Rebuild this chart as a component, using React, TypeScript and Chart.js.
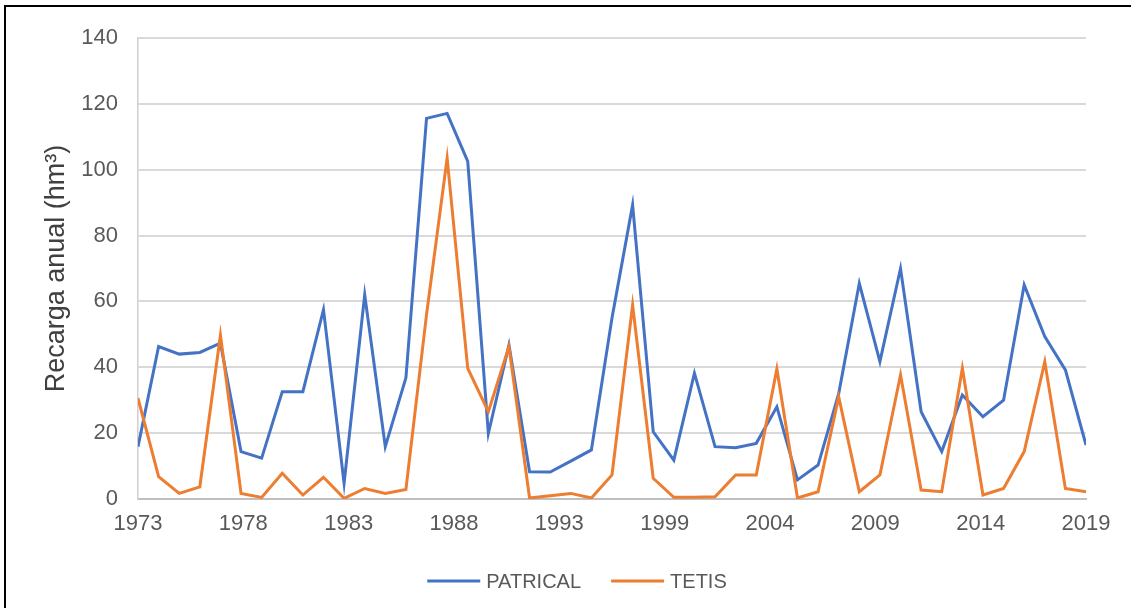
import React, { useEffect, useRef } from "react";
import { Chart, registerables } from "chart.js";

Chart.register(...registerables);

const years = [
  1973, 1974, 1975, 1976, 1977, 1978, 1979, 1980, 1981, 1982,
  1983, 1984, 1985, 1986, 1987, 1988, 1989, 1990, 1991, 1992,
  1993, 1994, 1995, 1996, 1997, 1998, 1999, 2000, 2001, 2002,
  2003, 2004, 2005, 2006, 2007, 2008, 2009, 2010, 2011, 2012,
  2013, 2014, 2015, 2016, 2017, 2018, 2019,
];

const patrical = [
  15.9, 46.3, 44.0, 44.5, 47.3, 14.4, 12.4, 32.6, 32.6, 57.5,
  4.8, 62.0, 15.9, 36.8, 115.6, 117.1, 102.5, 19.9, 46.8, 8.3,
  8.2, 11.5, 14.9, 55.0, 89.3, 20.4, 11.8, 38.2, 15.9, 15.6,
  16.9, 28.0, 5.8, 10.3, 32.0, 65.5, 41.7, 70.0, 26.5, 14.4,
  31.6, 25.0, 30.0, 65.0, 49.3, 39.2, 16.4,
];

const tetis = [
  30.6, 6.8, 1.7, 3.7, 49.8, 1.7, 0.5, 7.8, 1.2, 6.6,
  0.2, 3.2, 1.7, 2.9, 56.0, 103.5, 39.7, 26.5, 46.3, 0.3,
  1.0, 1.7, 0.3, 7.3, 58.9, 6.3, 0.5, 0.5, 0.7, 7.3,
  7.3, 39.5, 0.3, 2.2, 31.0, 2.2, 7.3, 37.7, 2.7, 2.2,
  39.7, 1.2, 3.2, 14.4, 41.7, 3.2, 2.2,
];

const xTickLabels = ["1973", "1978", "1983", "1988", "1993", "1999", "2004", "2009", "2014", "2019"];
const yTicks = [0, 20, 40, 60, 80, 100, 120, 140];

const seriesNames = ["PATRICAL", "TETIS"];
const seriesColors = ["#4472C4", "#ED7D31"];
const yTitle = "Recarga anual (hm³)";

const FONT = "'Liberation Sans', Arial, sans-serif";

const bottomLegend = {
  id: "bottomLegend",
  afterDraw(chart: any) {
    const ctx = chart.ctx;
    const lineLen = 53;
    const textGap = 6;
    const itemGap = 30;
    const fontSize = 20;
    const cx = 577;
    const cy = 581;
    ctx.save();
    ctx.font = `${fontSize}px ${FONT}`;
    const widths = seriesNames.map((n) => ctx.measureText(n).width);
    const total = widths.reduce((s, w) => s + lineLen + textGap + w, 0) + itemGap * (seriesNames.length - 1);
    let x = cx - total / 2;
    ctx.textBaseline = "middle";
    ctx.textAlign = "left";
    seriesNames.forEach((name, i) => {
      ctx.strokeStyle = seriesColors[i];
      ctx.lineWidth = 3;
      ctx.beginPath();
      ctx.moveTo(x, cy);
      ctx.lineTo(x + lineLen, cy);
      ctx.stroke();
      ctx.fillStyle = "#595959";
      ctx.fillText(name, x + lineLen + textGap, cy + 1);
      x += lineLen + textGap + widths[i] + itemGap;
    });
    ctx.restore();
  },
};

export default function App() {
  const ref = useRef<HTMLCanvasElement | null>(null);

  useEffect(() => {
    document.body.style.margin = "0";
    const canvas = ref.current;
    if (!canvas) return;
    const xMin = years[0];
    const xMax = years[years.length - 1];
    const chart = new Chart(canvas, {
      type: "line",
      data: {
        datasets: [
          {
            label: seriesNames[0],
            data: years.map((y, i) => ({ x: y, y: patrical[i] })),
            borderColor: seriesColors[0],
            backgroundColor: seriesColors[0],
            borderWidth: 3,
            pointRadius: 0,
            tension: 0,
            order: 2,
          },
          {
            label: seriesNames[1],
            data: years.map((y, i) => ({ x: y, y: tetis[i] })),
            borderColor: seriesColors[1],
            backgroundColor: seriesColors[1],
            borderWidth: 3,
            pointRadius: 0,
            tension: 0,
            order: 1,
          },
        ],
      },
      options: {
        animation: false,
        responsive: false,
        layout: { padding: { left: 0, top: 38, right: 45, bottom: 60 } },
        scales: {
          x: {
            type: "linear",
            min: xMin,
            max: xMax,
            afterBuildTicks: (scale: any) => {
              const n = xTickLabels.length;
              scale.ticks = xTickLabels.map((_, k) => ({ value: xMin + (k * (xMax - xMin)) / (n - 1) }));
            },
            afterFit: (scale: any) => {
              scale.height = 49;
            },
            ticks: {
              autoSkip: false,
              maxRotation: 0,
              padding: 12,
              color: "#595959",
              font: { family: FONT, size: 22 },
              callback: (_v: any, i: number) => xTickLabels[i],
            },
            grid: { color: "transparent", drawTicks: false },
            border: { display: true, color: "#bfbfbf", width: 2 },
          },
          y: {
            min: 0,
            max: 140,
            afterBuildTicks: (scale: any) => {
              scale.ticks = yTicks.map((v) => ({ value: v }));
            },
            afterFit: (scale: any) => {
              scale.width = 138;
            },
            ticks: {
              padding: 20,
              color: "#595959",
              font: { family: FONT, size: 22 },
            },
            grid: { color: "#d9d9d9", lineWidth: 2, drawTicks: false },
            border: { display: true, color: "#d0d0d0", width: 1.5 },
            title: {
              display: true,
              text: yTitle,
              color: "#404040",
              font: { family: FONT, size: 27 },
              padding: { top: 40, bottom: 0 },
            },
          },
        },
        plugins: {
          legend: { display: false },
          tooltip: { enabled: false },
        },
      },
      plugins: [bottomLegend],
    });
    return () => chart.destroy();
  }, []);

  return (
    <div style={{ position: "relative", width: 1131, height: 608, background: "#fff", overflow: "hidden" }}>
      <canvas ref={ref} width={1131} height={608} style={{ position: "absolute", left: 0, top: 0 }} />
      <div
        style={{
          position: "absolute",
          left: 4,
          top: 5,
          width: 2000,
          height: 2000,
          borderLeft: "2px solid #000",
          borderTop: "2px solid #000",
          pointerEvents: "none",
        }}
      />
    </div>
  );
}
